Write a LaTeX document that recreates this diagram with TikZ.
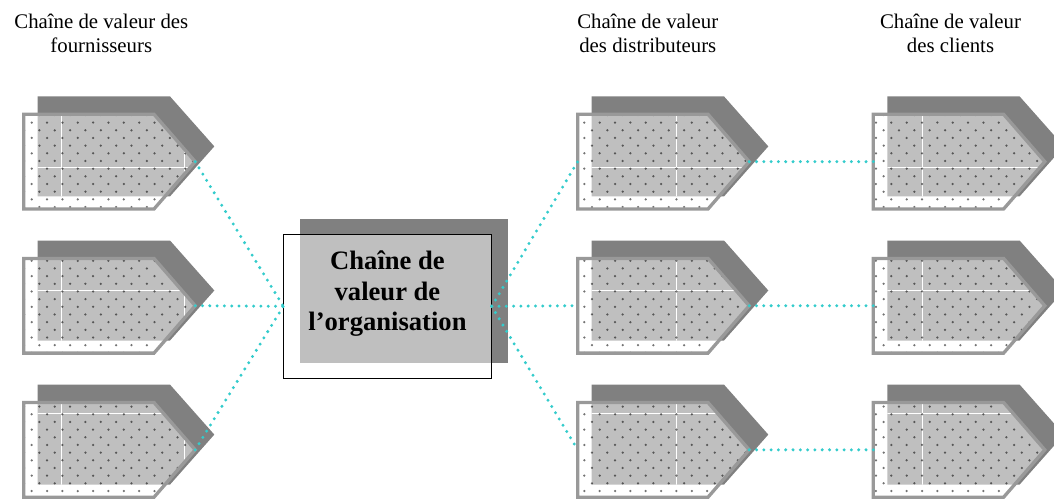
\documentclass[tikz,border=0pt]{standalone}
\usepackage{fontspec}
\setmainfont{Liberation Serif}
\definecolor{ombre}{HTML}{808080}
\definecolor{bord}{HTML}{999999}
\definecolor{turquoise}{HTML}{33CCCC}
\tikzset{
  lien/.style={turquoise, line width=3.3pt, line cap=round, dash pattern=on 0pt off 7.3pt},
  titre/.style={align=center, inner sep=0pt, font=\fontsize{20.8}{24.4}\selectfont},
}
\newcommand{\chevron}[3]{%
  \pgfmathtruncatemacro\ia{(#2-31.7)/15.35-2}
  \pgfmathtruncatemacro\ib{\ia+15}
  \pgfmathtruncatemacro\ja{(#3-122.6)/7.675-2}
  \pgfmathtruncatemacro\jb{\ja+17}
  \begin{scope}[shift={(#2,#3)}]
    \fill[ombre] (14,-17.9)--(146.3,-17.9)--(190.6,32.1)--(146.3,82.1)--(14,82.1)--cycle;
    \fill[white, opacity=.5] (0,0)--(130.3,0)--(171.5,47.35)--(130.3,94.7)--(0,94.7)--cycle;
    \begin{scope}
      \clip (0,0)--(130.3,0)--(171.5,47.35)--(130.3,94.7)--(0,94.7)--cycle;
      \begin{scope}
        \clip (14,-17.9)--(146.3,-17.9)--(190.6,32.1)--(146.3,82.1)--(14,82.1)--cycle;
        \foreach \k in {0,...,8}
          \draw[white, line width=1pt] ({61.7+122.9*\k-#2},-50)--++(0,600);
        \foreach \k in {0,...,3}
          \draw[white, line width=1pt] (-50,{44.4+122.9*\k-#3})--++(400,0);
      \end{scope}
      \foreach \j in {\ja,...,\jb}
        \foreach \i in {\ia,...,\ib}
          \fill[black, opacity=.55] ({31.7+15.35*\i+7.675*mod(\j+100,2)-#2},{122.6+7.675*\j-#3}) circle (1.25pt);
    \end{scope}
    \draw[bord, line width=3.3pt] (0,0)--(130.3,0)--(171.5,47.35)--(130.3,94.7)--(0,94.7)--cycle;
    \coordinate (#1-in) at (0,47.35);
    \coordinate (#1-tip) at (171.5,47.35);
  \end{scope}
}
\begin{document}
\begin{tikzpicture}[x=1pt, y=-1pt]
\useasboundingbox (0,0) rectangle (1054,500);
\fill[white] (0,0) rectangle (1054,500);
\clip (0,0) rectangle (1054,500);
\node[titre] (tf) at (101.3,33.3) {Chaîne de valeur des\\fournisseurs};
\node[titre] (td) at (647.8,33.3) {Chaîne de valeur\\des distributeurs};
\node[titre] (tc) at (950.5,33.3) {Chaîne de valeur\\des clients};
\foreach \n/\y in {1/114.3, 2/258.4, 3/402.5} {
  \chevron{f\n}{23.7}{\y}
  \chevron{d\n}{577.7}{\y}
  \chevron{c\n}{873.3}{\y}
}
\fill[ombre] (300,219) rectangle (507.7,362.7);
\node[draw, line width=.8pt, fill=white, fill opacity=.5, minimum width=208.4pt, minimum height=144pt, outer sep=0pt] (org) at (387.5,306.3) {};
\node[align=center, inner sep=0pt, font=\fontsize{26.6}{30.7}\selectfont\bfseries] (orgtxt) at (387.5,293.6) {Chaîne de\\valeur de\\l’organisation};
\foreach \n in {1,2,3} {
  \draw[lien] (f\n-tip) -- (org.west);
  \draw[lien] (org.east) -- (d\n-in);
  \draw[lien] (d\n-tip) -- (c\n-in);
}
\end{tikzpicture}
\end{document}
